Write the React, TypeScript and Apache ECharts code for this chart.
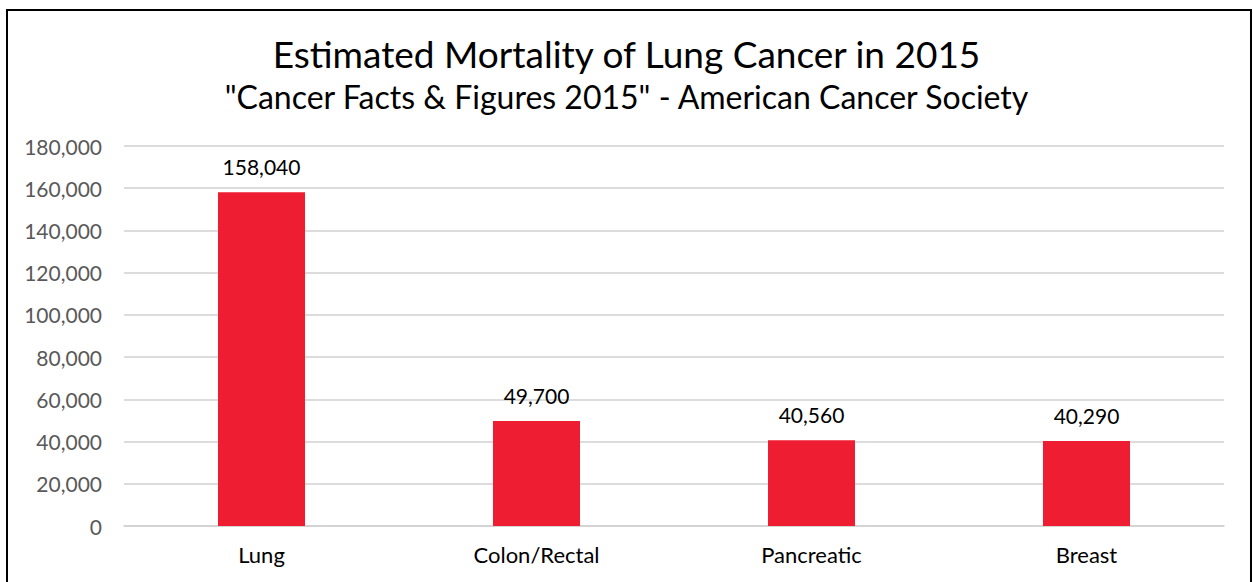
import React, { useEffect, useRef } from "react";
import * as echarts from "echarts";

const categories = ["Lung", "Colon/Rectal", "Pancreatic", "Breast"];
const deaths = [158040, 49700, 40560, 40290];
const titleText = "Estimated Mortality of Lung Cancer in 2015";
const subtitleText = "\"Cancer Facts & Figures 2015\" - American Cancer Society";

const FONT = "Lato, 'Open Sans', sans-serif";

export default function App() {
  const ref = useRef<HTMLDivElement>(null);
  useEffect(() => {
    if (!ref.current) return;
    const chart = echarts.init(ref.current, null, { renderer: "svg" });
    chart.setOption({
      animation: false,
      backgroundColor: "#ffffff",
      title: [
        {
          text: titleText,
          left: "center",
          top: 30,
          textStyle: { fontFamily: FONT, fontSize: 37, fontWeight: "normal", color: "#000000" },
        },
        {
          text: subtitleText,
          left: "center",
          top: 75,
          textStyle: { fontFamily: FONT, fontSize: 32, fontWeight: "normal", color: "#000000" },
        },
      ],
      graphic: [
        {
          type: "rect",
          shape: { x: 7, y: 10, width: 1244, height: 600 },
          style: { fill: "none", stroke: "#000000", lineWidth: 2 },
          silent: true,
        },
      ],
      grid: { left: 124, right: 29, top: 146, bottom: 56, containLabel: false },
      xAxis: {
        type: "category",
        data: categories,
        axisLine: { show: true, lineStyle: { color: "#d0d0d0", width: 1.5 } },
        axisTick: { show: false },
        axisLabel: {
          fontFamily: FONT,
          fontSize: 22,
          color: "#000000",
          margin: 17,
        },
      },
      yAxis: {
        type: "value",
        min: 0,
        max: 180000,
        interval: 20000,
        axisLine: { show: false },
        axisTick: { show: false },
        splitLine: { lineStyle: { color: "#d0d0d0", width: 1.5 } },
        axisLabel: {
          fontFamily: FONT,
          fontSize: 21,
          color: "#595959",
          margin: 22,
          formatter: (v: number) => v.toLocaleString("en-US"),
        },
      },
      series: [
        {
          type: "bar",
          data: deaths,
          barWidth: 87,
          itemStyle: { color: "#EE1D31" },
          label: {
            show: true,
            position: "top",
            distance: 15,
            fontFamily: FONT,
            fontSize: 21,
            color: "#000000",
            formatter: (p: any) => Number(p.value).toLocaleString("en-US"),
          },
        },
      ],
    });
    return () => chart.dispose();
  }, []);
  return (
    <div
      ref={ref}
      style={{ position: "fixed", left: 0, top: 0, width: 1253, height: 582, background: "#fff" }}
    />
  );
}
